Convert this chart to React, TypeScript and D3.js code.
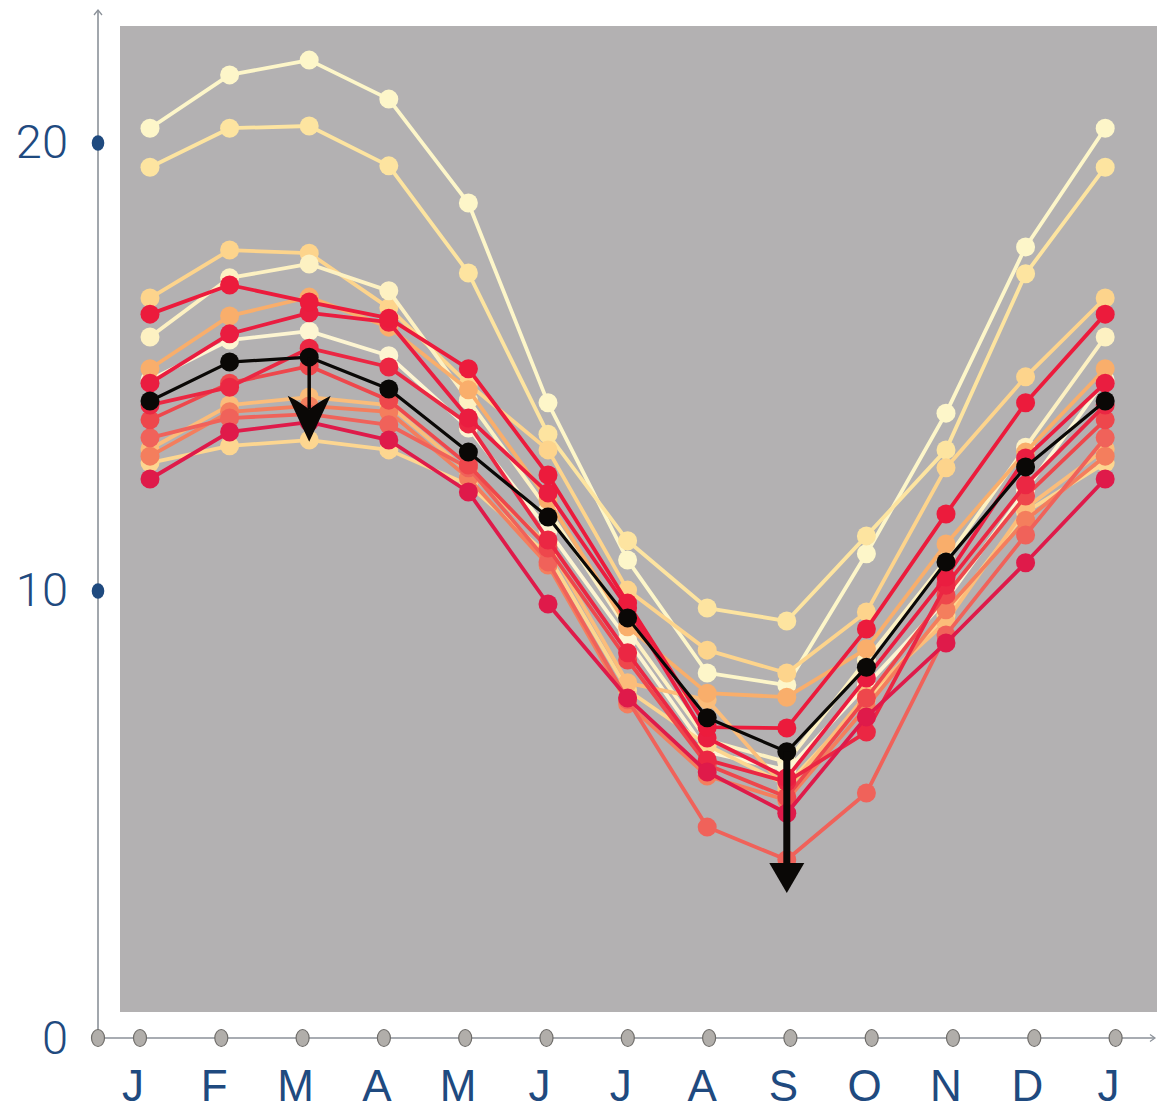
import React from "react";
import * as d3 from "d3";

// Month labels along the bottom axis (January repeated to close the year)
const monthLabels = ["J", "F", "M", "A", "M", "J", "J", "A", "S", "O", "N", "D", "J"];
const yTicks = [0, 10, 20];

// Monthly values for each station, January to January
const stationA = [20.33, 21.52, 21.85, 20.98, 18.66, 14.2, 10.69, 8.17, 7.9, 10.83, 13.97, 17.68, 20.33];
const stationB = [19.46, 20.33, 20.38, 19.49, 17.1, 13.5, 11.12, 9.62, 9.33, 11.23, 13.15, 17.08, 19.46];
const stationC = [16.54, 17.61, 17.54, 16.32, 14.62, 13.15, 10.02, 8.68, 8.17, 9.53, 12.75, 14.78, 16.54];
const stationD = [16.18, 16.83, 16.45, 16.09, 14.96, 12.59, 9.73, 6.96, 6.94, 9.15, 11.72, 14.2, 16.18];
const stationE = [15.67, 16.99, 17.3, 16.7, 14.26, 11.81, 9.13, 6.67, 6.18, 8.46, 10.69, 13.21, 15.67];
const stationF = [14.96, 16.14, 16.56, 15.89, 14.49, 12.03, 9.2, 7.72, 7.63, 8.71, 11.05, 13.1, 14.96];
const stationG = [14.64, 15.74, 16.21, 16.0, 13.86, 12.19, 9.62, 6.72, 5.83, 8.06, 10.31, 12.97, 14.64];
const stationH = [14.71, 15.6, 15.8, 15.25, 13.64, 11.36, 8.91, 6.41, 6.0, 7.9, 9.8, 12.25, 14.71];
const stationI = [14.15, 14.55, 15.42, 15.0, 13.73, 11.14, 8.62, 6.23, 5.74, 6.85, 10.13, 12.37, 14.15];
const stationJ = [13.82, 14.64, 15.02, 14.26, 12.81, 10.96, 8.46, 6.12, 5.4, 7.61, 9.91, 12.12, 13.82];
const stationK = [13.42, 13.86, 13.95, 13.71, 12.75, 10.65, 7.57, 4.73, 4.0, 5.49, 9.02, 11.25, 13.42];
const stationL = [13.17, 14.15, 14.33, 14.15, 12.66, 11.03, 7.95, 7.57, 5.56, 7.68, 9.31, 11.85, 13.17];
const stationM = [13.01, 14.0, 14.13, 14.0, 12.52, 10.58, 7.48, 5.87, 5.33, 7.41, 9.58, 11.58, 13.01];
const stationN = [12.86, 13.24, 13.37, 13.15, 12.37, 10.8, 7.79, 6.56, 5.67, 7.57, 9.46, 11.76, 12.86];
const stationO = [12.5, 13.55, 13.77, 13.37, 12.21, 9.71, 7.61, 5.96, 5.04, 7.19, 8.84, 10.63, 12.5];

// Average across all stations
const average = [14.24, 15.11, 15.22, 14.51, 13.1, 11.65, 9.4, 7.17, 6.41, 8.3, 10.65, 12.77, 14.24];

// Arrows drop from the average at March and September to these values
const arrowMonths = [2, 8];
const arrowEnds = [13.33, 3.26];

// Drawing order: lightest first, reds on top
const stations = [
  { values: stationA, color: "#fdf6c9" },
  { values: stationB, color: "#fde4a0" },
  { values: stationC, color: "#fdd48c" },
  { values: stationE, color: "#fdf1c2" },
  { values: stationH, color: "#fdf5d2" },
  { values: stationN, color: "#fdd690" },
  { values: stationL, color: "#fbbd7a" },
  { values: stationF, color: "#f9ae6b" },
  { values: stationM, color: "#f47e5d" },
  { values: stationK, color: "#f0625a" },
  { values: stationJ, color: "#ee474c" },
  { values: stationI, color: "#eb2743" },
  { values: stationO, color: "#df1a4a" },
  { values: stationG, color: "#ea1d40" },
  { values: stationD, color: "#ec1b3c" },
];

const W = 1157;
const H = 1110;
const axisColor = "#8b9199";
const labelColor = "#1f4a7f";

export default function App() {
  const x = d3.scaleLinear().domain([0, 12]).range([150, 1105.2]);
  const y = d3.scaleLinear().domain([0, 20]).range([1039, 143]);
  // the bottom axis carries its own, slightly wider month spacing
  const xAxis = d3.scaleLinear().domain([0, 12]).range([140, 1115.6]);
  const originX = 98;
  const axisY = y(0) - 1;

  const line = d3
    .line<number>()
    .x((_, i) => x(i))
    .y((d) => y(d));

  return (
    <svg
      width={W}
      height={H}
      style={{ position: "absolute", left: 0, top: 0, background: "#ffffff" }}
    >
      {/* plot background */}
      <rect x={120} y={26} width={W - 120} height={986} fill="#b3b1b2" />

      {/* y axis */}
      <line x1={originX} y1={axisY} x2={originX} y2={10} stroke={axisColor} strokeWidth={1.6} />
      <path
        d={`M${originX - 4},${15} L${originX},${10} L${originX + 4},${15}`}
        fill="none"
        stroke={axisColor}
        strokeWidth={1.3}
      />
      {yTicks.map((t) => (
        <g key={`yt${t}`}>
          {t > 0 && <ellipse cx={originX} cy={y(t)} rx={6.3} ry={7.8} fill={labelColor} />}
          <text
            x={68}
            y={y(t) + 15}
            textAnchor="end"
            fontFamily="Roboto, 'Liberation Sans', Arial, sans-serif"
            fontWeight={300}
            fontSize={47}
            fill={labelColor}
          >
            {t}
          </text>
        </g>
      ))}

      {/* x axis */}
      <line x1={originX} y1={axisY} x2={1154} y2={axisY} stroke={axisColor} strokeWidth={1.6} />
      <path
        d={`M${1150},${axisY - 3.5} L${1155},${axisY} L${1150},${axisY + 3.5}`}
        fill="none"
        stroke={axisColor}
        strokeWidth={1.2}
      />
      <ellipse cx={originX} cy={axisY} rx={6.5} ry={8.5} fill="#b1aeaa" stroke="#6e6c69" strokeWidth={1.2} />
      {monthLabels.map((m, i) => (
        <g key={`xt${i}`}>
          <ellipse cx={xAxis(i)} cy={axisY} rx={6.5} ry={8.5} fill="#b1aeaa" stroke="#6e6c69" strokeWidth={1.2} />
          <text
            x={xAxis(i) - 7}
            y={1101}
            textAnchor="middle"
            fontFamily="'Liberation Sans', Arial, Helvetica, sans-serif"
            fontSize={44}
            fill={labelColor}
          >
            {m}
          </text>
        </g>
      ))}

      {/* station lines */}
      {stations.map((s, si) => (
        <g key={`s${si}`}>
          <path d={line(s.values) || ""} fill="none" stroke={s.color} strokeWidth={3.8} strokeLinejoin="round" />
          {s.values.map((v, i) => (
            <circle key={i} cx={x(i)} cy={y(v)} r={9.5} fill={s.color} />
          ))}
        </g>
      ))}

      {/* average line */}
      <path d={line(average) || ""} fill="none" stroke="#0a0806" strokeWidth={3.2} strokeLinejoin="round" />
      {average.map((v, i) => (
        <circle key={`avg${i}`} cx={x(i)} cy={y(v)} r={9.5} fill="#0a0806" />
      ))}

      {/* March arrow: swept-back head */}
      {(() => {
        const i = arrowMonths[0];
        const cx = x(i);
        const y0 = y(average[i]);
        const tip = y(arrowEnds[0]);
        const back = tip - 46;
        return (
          <g>
            <line x1={cx} y1={y0} x2={cx} y2={back + 14} stroke="#0a0806" strokeWidth={3.5} />
            <path
              d={`M${cx},${tip} L${cx - 21.5},${back} Q${cx - 6},${back + 8} ${cx},${back + 14} Q${cx + 6},${back + 8} ${cx + 21.5},${back} Z`}
              fill="#0a0806"
            />
          </g>
        );
      })()}

      {/* September arrow: plain triangular head */}
      {(() => {
        const i = arrowMonths[1];
        const cx = x(i);
        const y0 = y(average[i]);
        const tip = y(arrowEnds[1]);
        const back = tip - 30;
        return (
          <g>
            <line x1={cx} y1={y0} x2={cx} y2={back + 2} stroke="#0a0806" strokeWidth={7} />
            <path d={`M${cx},${tip} L${cx - 17.5},${back} L${cx + 17.5},${back} Z`} fill="#0a0806" />
          </g>
        );
      })()}
    </svg>
  );
}
